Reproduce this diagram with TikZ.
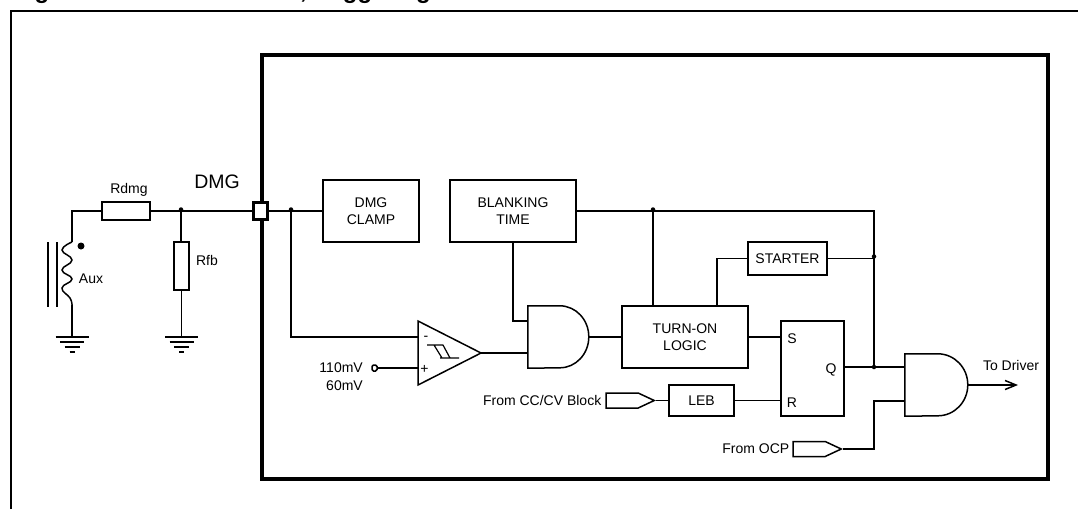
\documentclass[tikz,border=0pt]{standalone}
\usepackage{fontspec}
\setmainfont{Liberation Sans}
\usetikzlibrary{arrows.meta}
\usetikzlibrary{shapes.symbols}
\tikzset{
  wire/.style={line width=1.5pt},
  blockbox/.style={draw,line width=1.5pt,inner sep=0pt,align=center,font=\fontsize{14}{17}\selectfont},
  label/.style={inner sep=0pt,font=\fontsize{14}{16}\selectfont},
  junction/.style={circle,fill=black,inner sep=0pt,minimum size=4.5pt},
  gate/.style={inner sep=0pt,minimum height=62pt},
  tag/.style={signal,signal to=east,signal pointer angle=50,draw,line width=1.5pt,inner sep=0pt,
    minimum width=48pt,minimum height=15pt,anchor=east},
}
\begin{document}
\begin{tikzpicture}[x=1pt,y=-1pt]
\useasboundingbox (0,0) rectangle (1078,509);
% heading, cut off by the top of the page
\begin{scope}
\clip (0,0) rectangle (1078,509);
\node (headleft) [anchor=base west,inner sep=0pt,font=\fontsize{24}{24}\bfseries\selectfont] at (13,-2) {Figure};
\node (headright) [anchor=base west,inner sep=0pt,font=\fontsize{24}{24}\bfseries\selectfont] at (300,-2) {, Triggering};
\end{scope}
% draw frames
\draw [line width=2pt] (10.5,509) -- (10.5,10.5) -- (1078,10.5);
\draw [line width=3.6pt] (262,55) rectangle (1048,479);
% blocks
\node (rdmg) [blockbox,minimum width=48pt,minimum height=18pt] at (126,211) {};
\node (rfb) [blockbox,minimum width=15pt,minimum height=48pt] at (181.5,266) {};
\node (clamp) [blockbox,minimum width=96pt,minimum height=62pt] at (371,211) {DMG\\CLAMP};
\node (blanking) [blockbox,minimum width=126pt,minimum height=62pt] at (513,211) {BLANKING\\TIME};
\node (starter) [blockbox,minimum width=79pt,minimum height=33pt] at (787.5,258.5) {STARTER};
\node (turnon) [blockbox,minimum width=126pt,minimum height=62pt] at (685,337) {TURN-ON\\LOGIC};
\node (leb) [blockbox,minimum width=65pt,minimum height=31pt] at (701.5,400.5) {LEB};
\node (sr) [blockbox,minimum width=63pt,minimum height=95pt] at (812.5,368.5) {};
\node (pad) [draw,fill=white,line width=2.4pt,inner sep=0pt,minimum width=14pt,minimum height=17pt] at (260.5,211) {};
% gates
\node (andone) [gate,minimum width=61pt] at (558.5,337) {};
\node (andtwo) [gate,minimum width=63pt] at (936.5,385) {};
\foreach \g/\s/\r in {andone/32/29,andtwo/33/30} {
\draw [line width=1.5pt] (\g.north west) -- ++(\s,0)
  arc [x radius=\r pt,y radius=31pt,start angle=90,end angle=-90] -- (\g.south west) -- cycle;
}
\coordinate (andonea) at (528,321);
\coordinate (andoneb) at (528,353);
\coordinate (andtwoa) at (905,367);
\coordinate (andtwob) at (905,401);
% comparator
\coordinate (cmpminus) at (418,337);
\coordinate (cmpplus) at (418,368);
\coordinate (cmpout) at (481,353);
\draw [line width=1.5pt] (418,321) -- (cmpout) -- (418,385) -- cycle;
\node (cmpneg) [label] at (426,338) {-};
\node (cmppos) [label] at (424.5,369) {+};
\draw [line width=1.2pt] (427,345) -- (443,345) (434,345) -- (442,358) (443,345) -- (450,358) (440,358) -- (459,358);
% tags
\node (fromcc) [tag] at (656,400.5) {};
\node (fromocp) [tag] at (843,449) {};
% reference pin of the comparator
\node (pin) [draw,line width=1.5pt,inner sep=0pt,minimum width=5pt,minimum height=6pt,rounded corners=1.5pt] at (374.5,368) {};
% transformer winding
\coordinate (coiltop) at (72,242);
\coordinate (coilbot) at (72,305);
\draw [wire] plot [smooth,tension=0.8] coordinates {(coiltop) (62,250) (72,260) (62,270) (72,279) (62,288) (70,298) (coilbot)};
\foreach \x in {48,57} {
\draw [wire] (\x,242) -- (\x,307);
}
\node (coildot) [junction,minimum size=7pt] at (81,246) {};
% grounds
\coordinate (gndaux) at (72,337);
\coordinate (gndrfb) at (181.5,337);
\foreach \g in {gndaux,gndrfb} {
\foreach \d/\w in {0/16.5,5/12,10/7.5,15/2.5} {
\draw [wire] ([xshift=-\w pt,yshift=-\d pt]\g) -- ([xshift=\w pt,yshift=-\d pt]\g);
}
}
% junctions
\node (nrfb) [junction] at (181,209.5) {};
\node (ncmp) [junction] at (291,209.5) {};
\node (nblank) [junction] at (653,209.5) {};
\node (nstart) [junction] at (874,256.5) {};
\node (nq) [junction] at (874,367) {};
\coordinate (nturn) at (717,306);
% connectors
\draw [wire] (rdmg.west) -| (coiltop);
\draw [wire] (coilbot) -- (gndaux);
\draw [wire] (rdmg.east) -- (pad.west);
\draw [wire] (nrfb |- rfb.north) -- (nrfb);
\draw [wire] (rfb.south) -- (gndrfb);
\draw [wire] (pad.east) -- (clamp.west);
\draw [wire] (ncmp) |- (cmpminus);
\draw [wire] (pin.east) -- (cmpplus);
\draw [wire] (cmpout) -- (andoneb);
\draw [wire] (blanking.south) |- (andonea);
\draw [wire] (andone.east) -- (turnon.west);
\draw [wire] (blanking.east) -| (nq);
\draw [wire] (nblank) -- (nblank |- turnon.north);
\draw [wire] (starter.west) -| (nturn);
\draw [wire] (starter.east) -- (starter.east -| nq);
\draw [wire] (turnon.east) -- (turnon.east -| sr.west);
\draw [wire] (fromcc.east) -- (leb.west);
\draw [wire] (leb.east) -- (leb.east -| sr.west);
\draw [wire] (sr.east |- nq) -- (andtwoa);
\draw [wire] (fromocp.east) -| (nq |- andtwob) -- (andtwob);
\coordinate (driver) at (1018,385);
\draw [wire,-{Straight Barb[length=11pt,width=9pt,line width=1.5pt]}] (andtwo.east) -- (driver);
% labels
\node (rdmglabel) [label] at (129,190) {Rdmg};
\node (dmglabel) [inner sep=0pt,font=\fontsize{19.5}{22}\selectfont] at (217,182) {DMG};
\node (rfblabel) [label] at (207,260) {Rfb};
\node (auxlabel) [label] at (91,279) {Aux};
\node (vhigh) [label,anchor=east] at (363,368) {110mV};
\node (vlow) [label,anchor=east] at (363,386) {60mV};
\node (cclabel) [label,anchor=east] at (fromcc.west) [xshift=-4pt] {From CC/CV Block};
\node (ocplabel) [label,anchor=east] at (fromocp.west) [xshift=-3pt] {From OCP};
\node (slabel) [label] at (792,339) {S};
\node (rlabel) [label] at (792,403) {R};
\node (qlabel) [label] at (831,370) {Q};
\node (drvlabel) [label] at (1011,365) {To Driver};
\end{tikzpicture}
\end{document}
